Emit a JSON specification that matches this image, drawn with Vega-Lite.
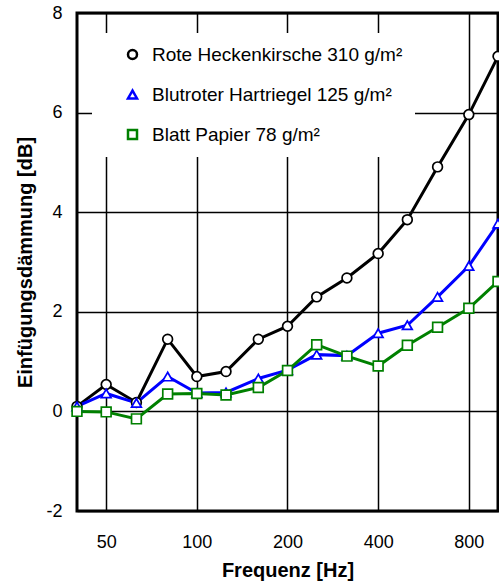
{
  "$schema": "https://vega.github.io/schema/vega-lite/v6.json",
  "width": 421,
  "height": 498,
  "autosize": "none",
  "padding": {"left": 77, "top": 13, "right": 1, "bottom": 70},
  "background": "white",
  "config": {
    "font": "Liberation Sans",
    "view": {"stroke": "black", "strokeWidth": 3},
    "axis": {
      "gridColor": "black", "gridWidth": 1.5, "gridOpacity": 1,
      "domain": false, "ticks": false,
      "labelColor": "black", "labelFontSize": 18, "labelFont": "Liberation Sans",
      "titleColor": "black", "titleFontSize": 20, "titleFontWeight": "bold", "titleFont": "Liberation Sans",
      "labelOverlap": false, "labelBound": false, "labelFlush": false
    },
    "legend": {
      "title": null, "orient": "none", "legendX": 15, "legendY": 20,
      "fillColor": "white", "padding": 12,
      "symbolSize": 81, "symbolStrokeWidth": 2.5, "symbolOffset": 19,
      "labelOffset": 10, "rowPadding": 20,
      "labelFontSize": 19, "labelFont": "Liberation Sans", "labelColor": "black", "labelLimit": 400
    }
  },
  "data": {
    "values": [
      {"f": 40, "s": "Rote Heckenkirsche 310 g/m²", "v": 0.10},
      {"f": 50, "s": "Rote Heckenkirsche 310 g/m²", "v": 0.54},
      {"f": 63, "s": "Rote Heckenkirsche 310 g/m²", "v": 0.18},
      {"f": 80, "s": "Rote Heckenkirsche 310 g/m²", "v": 1.45},
      {"f": 100, "s": "Rote Heckenkirsche 310 g/m²", "v": 0.70},
      {"f": 125, "s": "Rote Heckenkirsche 310 g/m²", "v": 0.80},
      {"f": 160, "s": "Rote Heckenkirsche 310 g/m²", "v": 1.45},
      {"f": 200, "s": "Rote Heckenkirsche 310 g/m²", "v": 1.71},
      {"f": 250, "s": "Rote Heckenkirsche 310 g/m²", "v": 2.30},
      {"f": 315, "s": "Rote Heckenkirsche 310 g/m²", "v": 2.68},
      {"f": 400, "s": "Rote Heckenkirsche 310 g/m²", "v": 3.17},
      {"f": 500, "s": "Rote Heckenkirsche 310 g/m²", "v": 3.85},
      {"f": 630, "s": "Rote Heckenkirsche 310 g/m²", "v": 4.91},
      {"f": 800, "s": "Rote Heckenkirsche 310 g/m²", "v": 5.96},
      {"f": 1000, "s": "Rote Heckenkirsche 310 g/m²", "v": 7.13},
      {"f": 40, "s": "Blutroter Hartriegel 125 g/m²", "v": 0.10},
      {"f": 50, "s": "Blutroter Hartriegel 125 g/m²", "v": 0.36},
      {"f": 63, "s": "Blutroter Hartriegel 125 g/m²", "v": 0.17},
      {"f": 80, "s": "Blutroter Hartriegel 125 g/m²", "v": 0.70},
      {"f": 100, "s": "Blutroter Hartriegel 125 g/m²", "v": 0.37},
      {"f": 125, "s": "Blutroter Hartriegel 125 g/m²", "v": 0.38},
      {"f": 160, "s": "Blutroter Hartriegel 125 g/m²", "v": 0.66},
      {"f": 200, "s": "Blutroter Hartriegel 125 g/m²", "v": 0.83},
      {"f": 250, "s": "Blutroter Hartriegel 125 g/m²", "v": 1.14},
      {"f": 315, "s": "Blutroter Hartriegel 125 g/m²", "v": 1.12},
      {"f": 400, "s": "Blutroter Hartriegel 125 g/m²", "v": 1.57},
      {"f": 500, "s": "Blutroter Hartriegel 125 g/m²", "v": 1.73},
      {"f": 630, "s": "Blutroter Hartriegel 125 g/m²", "v": 2.30},
      {"f": 800, "s": "Blutroter Hartriegel 125 g/m²", "v": 2.92},
      {"f": 1000, "s": "Blutroter Hartriegel 125 g/m²", "v": 3.77},
      {"f": 40, "s": "Blatt Papier 78 g/m²", "v": 0.00},
      {"f": 50, "s": "Blatt Papier 78 g/m²", "v": -0.01},
      {"f": 63, "s": "Blatt Papier 78 g/m²", "v": -0.15},
      {"f": 80, "s": "Blatt Papier 78 g/m²", "v": 0.35},
      {"f": 100, "s": "Blatt Papier 78 g/m²", "v": 0.36},
      {"f": 125, "s": "Blatt Papier 78 g/m²", "v": 0.33},
      {"f": 160, "s": "Blatt Papier 78 g/m²", "v": 0.48},
      {"f": 200, "s": "Blatt Papier 78 g/m²", "v": 0.82},
      {"f": 250, "s": "Blatt Papier 78 g/m²", "v": 1.34},
      {"f": 315, "s": "Blatt Papier 78 g/m²", "v": 1.11},
      {"f": 400, "s": "Blatt Papier 78 g/m²", "v": 0.91},
      {"f": 500, "s": "Blatt Papier 78 g/m²", "v": 1.33},
      {"f": 630, "s": "Blatt Papier 78 g/m²", "v": 1.69},
      {"f": 800, "s": "Blatt Papier 78 g/m²", "v": 2.07},
      {"f": 1000, "s": "Blatt Papier 78 g/m²", "v": 2.61}
    ]
  },
  "encoding": {
    "x": {
      "field": "f", "type": "quantitative",
      "scale": {"type": "log", "domain": [40, 1000], "nice": false},
      "axis": {"values": [50, 100, 200, 400, 800], "labelExpr": "'' + datum.value", "labelPadding": 22, "titlePadding": 9, "title": "Frequenz [Hz]"}
    },
    "y": {
      "field": "v", "type": "quantitative",
      "scale": {"domain": [-2, 8], "nice": false, "zero": false},
      "axis": {"values": [-2, 0, 2, 4, 6, 8], "labelExpr": "'' + datum.value", "labelPadding": 15, "titlePadding": 10, "title": "Einfügungsdämmung [dB]"}
    }
  },
  "layer": [
    {
      "mark": {"type": "line", "strokeWidth": 3},
      "encoding": {
        "color": {
          "field": "s", "type": "nominal",
          "scale": {"domain": ["Blatt Papier 78 g/m²", "Blutroter Hartriegel 125 g/m²", "Rote Heckenkirsche 310 g/m²"], "range": ["#008000", "#0000ff", "#000000"]},
          "legend": null
        }
      }
    },
    {
      "mark": {"type": "point", "filled": true, "fill": "white", "fillOpacity": 1, "opacity": 1, "strokeWidth": 1.7, "size": 95},
      "encoding": {
        "stroke": {
          "field": "s", "type": "nominal",
          "scale": {"domain": ["Rote Heckenkirsche 310 g/m²", "Blutroter Hartriegel 125 g/m²", "Blatt Papier 78 g/m²"], "range": ["#000000", "#0000ff", "#008000"]},
          "legend": {
            "encode": {
              "symbols": {
                "shape": {"value": {"expr": "datum.value === 'Rote Heckenkirsche 310 g/m²' ? 'M-3.9,0L-1.1,0M1.1,0L3.9,0M1.1,0A1.1,1.1,0,1,1,-1.1,0A1.1,1.1,0,1,1,1.1,0Z' : (datum.value === 'Blutroter Hartriegel 125 g/m²' ? 'M-3.9,0.2L-0.82,0.2M0.82,0.2L3.9,0.2M0,-1.3L1.2,0.9L-1.2,0.9Z' : 'M-3.9,0L-1,0M1,0L3.9,0M-1,-1L1,-1L1,1L-1,1Z')"}},
                "fill": {"value": "white"},
                "fillOpacity": {"value": 1},
                "opacity": {"value": 1},
                "strokeWidth": {"value": 2.5}
              }
            }
          }
        },
        "shape": {
          "field": "s", "type": "nominal",
          "scale": {"domain": ["Rote Heckenkirsche 310 g/m²", "Blutroter Hartriegel 125 g/m²", "Blatt Papier 78 g/m²"], "range": ["circle", "triangle-up", "square"]},
          "legend": {
            "encode": {
              "symbols": {
                "shape": {"value": {"expr": "datum.value === 'Rote Heckenkirsche 310 g/m²' ? 'M-3.9,0L-1.1,0M1.1,0L3.9,0M1.1,0A1.1,1.1,0,1,1,-1.1,0A1.1,1.1,0,1,1,1.1,0Z' : (datum.value === 'Blutroter Hartriegel 125 g/m²' ? 'M-3.9,0.2L-0.82,0.2M0.82,0.2L3.9,0.2M0,-1.3L1.2,0.9L-1.2,0.9Z' : 'M-3.9,0L-1,0M1,0L3.9,0M-1,-1L1,-1L1,1L-1,1Z')"}},
                "fill": {"value": "white"},
                "fillOpacity": {"value": 1},
                "opacity": {"value": 1},
                "strokeWidth": {"value": 2.5}
              }
            }
          }
        }
      }
    }
  ]
}
